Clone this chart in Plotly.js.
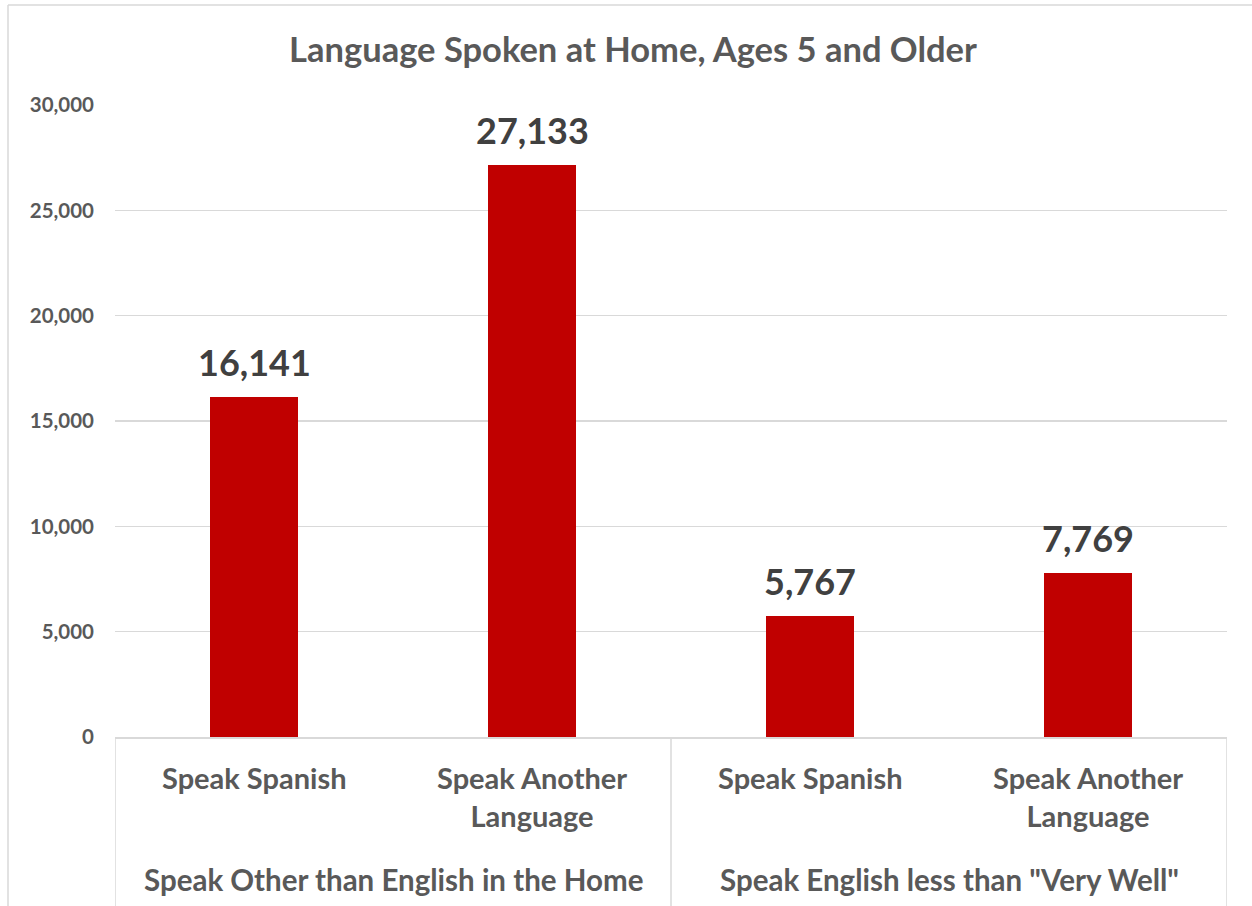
<!DOCTYPE html>
<html>
<head>
<meta charset="utf-8">
<script src="https://cdn.plot.ly/plotly-3.0.1.min.js"></script>
<style>html,body{margin:0;padding:0;background:#fff;}#chart{width:1252px;height:906px;}</style>
</head>
<body>
<div id="chart"></div>
<script>
const subLabels = ["Speak Spanish", "Speak Another<br>Language", "Speak Spanish", "Speak Another<br>Language"];
const groupLabels = ["Speak Other than English in the Home", "Speak English less than \"Very Well\""];
const values = [16141, 27133, 5767, 7769];
const yTicks = [0, 5000, 10000, 15000, 20000, 25000, 30000];

const FONT = "Lato, 'Open Sans', sans-serif";
const xs = values.map((v, i) => i);

const trace = {
  type: "bar",
  x: xs,
  y: values,
  width: 0.313,
  marker: {color: "#C00000"},
  hoverinfo: "none"
};

const annotations = [];
values.forEach((v, i) => {
  annotations.push({
    x: xs[i], xref: "x", y: v, yref: "y", yanchor: "middle", yshift: 35,
    text: v.toLocaleString("en-US"), showarrow: false,
    font: {family: FONT, size: 36, color: "#404040", weight: 700}
  });
});
subLabels.forEach((t, i) => {
  annotations.push({
    x: i, xref: "x", y: -0.0327, yref: "paper", yanchor: "top",
    text: t, showarrow: false,
    font: {family: FONT, size: 29, color: "#595959", weight: 700}
  });
});
groupLabels.forEach((t, g) => {
  annotations.push({
    x: 2 * g + 0.5, xref: "x", y: -0.2247, yref: "paper", yanchor: "middle",
    text: t, showarrow: false,
    font: {family: FONT, size: 29.5, color: "#595959", weight: 700}
  });
});

const pxX = p => (p - 115) / 1112;
const pxY = p => (737 - p) / 632;
const shapes = [
  {type: "line", xref: "x", yref: "paper", x0: -0.5, x1: -0.5, y0: 0, y1: pxY(906), line: {color: "#D9D9D9", width: 1.5}},
  {type: "line", xref: "x", yref: "paper", x0: 1.5, x1: 1.5, y0: 0, y1: pxY(906), line: {color: "#D9D9D9", width: 1.5}},
  {type: "line", xref: "x", yref: "paper", x0: 3.5, x1: 3.5, y0: 0, y1: pxY(906), line: {color: "#D9D9D9", width: 1.5}},
  {type: "line", xref: "paper", yref: "paper", x0: pxX(8), x1: pxX(1252), y0: pxY(5), y1: pxY(5), line: {color: "#D9D9D9", width: 1.5}},
  {type: "line", xref: "paper", yref: "paper", x0: pxX(8), x1: pxX(8), y0: pxY(5), y1: pxY(906), line: {color: "#D9D9D9", width: 1.5}}
];

const layout = {
  width: 1252, height: 906,
  margin: {l: 115, r: 25, t: 105, b: 169},
  paper_bgcolor: "#fff", plot_bgcolor: "#fff",
  title: {
    text: "Language Spoken at Home, Ages 5 and Older",
    font: {family: FONT, size: 34.5, color: "#595959", weight: 700},
    x: 633 / 1252, xanchor: "center", y: 1 - 50 / 906, yanchor: "middle"
  },
  showlegend: false,
  bargap: 0,
  xaxis: {
    range: [-0.5, 3.5],
    showticklabels: false, showgrid: false, zeroline: false,
    showline: true, linecolor: "#D9D9D9", linewidth: 1.5,
    fixedrange: true
  },
  yaxis: {
    range: [0, 30000],
    tickvals: yTicks,
    tickformat: ",d",
    showgrid: true, gridcolor: "#D9D9D9", gridwidth: 1.5,
    zeroline: false, showline: false,
    ticks: "", ticklabelstandoff: 20,
    tickfont: {family: FONT, size: 20.5, color: "#595959", weight: 700},
    fixedrange: true
  },
  annotations: annotations,
  shapes: shapes
};

Plotly.newPlot("chart", [trace], layout, {displayModeBar: false, staticPlot: true});
</script>
</body>
</html>
